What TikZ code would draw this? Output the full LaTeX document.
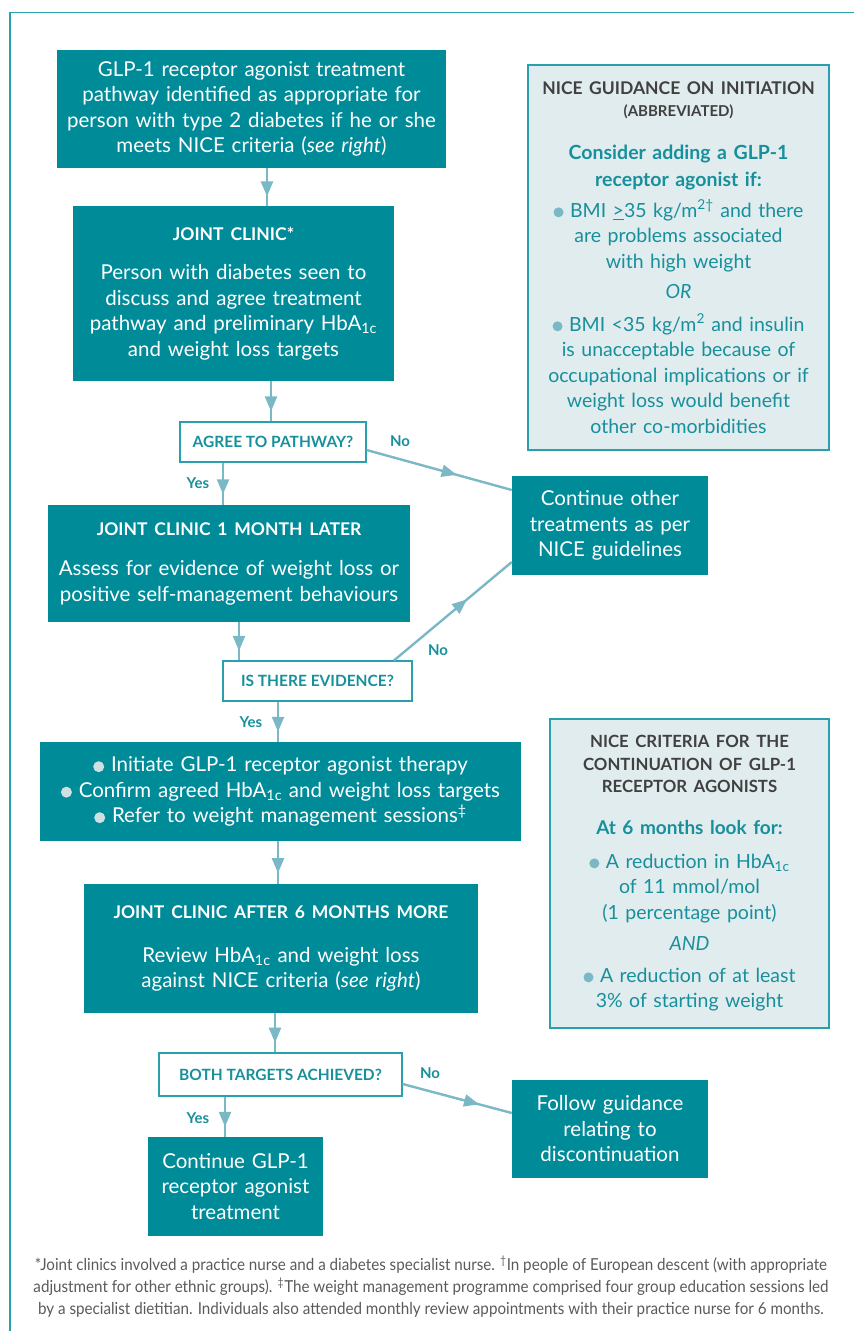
\documentclass[tikz,border=0pt]{standalone}
\usepackage{fontspec}
\setmainfont{Lato}
\newfontfamily\notefont[FakeStretch=0.92]{Lato}
\usetikzlibrary{arrows.meta,positioning,decorations.markings}
\setlength{\parindent}{0pt}

\definecolor{tealbox}{HTML}{008B99}
\definecolor{arrowc}{HTML}{7AB8C5}
\definecolor{framec}{HTML}{2AA0AE}
\definecolor{infofill}{HTML}{E1ECEF}
\definecolor{tealtext}{HTML}{17909C}
\definecolor{headgrey}{HTML}{404040}
\definecolor{notegrey}{HTML}{5A5A5A}
\definecolor{dotlight}{HTML}{CFE0E3}

\newcommand\bluedot{\tikz[baseline=-5pt]\fill[arrowc] (0pt,0pt) circle (5pt);}
\newcommand\greydot{\tikz[baseline=-5pt]\fill[dotlight] (0pt,0pt) circle (5.5pt);}
\newcommand\boxhead[1]{{\bfseries\fontsize{17.5}{25.5}\selectfont #1\par}}
\newcommand\hba{HbA\textsubscript{1c}}

\tikzset{
    stepbox/.style={fill=tealbox, text=white, align=center, inner sep=0pt,
        font=\fontsize{20.5}{25.5}\selectfont},
    askbox/.style={draw=framec, line width=1.2pt, fill=white, text=tealtext,
        inner sep=0pt, font=\bfseries\fontsize{15.5}{18}\selectfont},
    infobox/.style={draw=framec, line width=1.5pt, fill=infofill, text=tealtext,
        align=center, inner sep=0pt, font=\fontsize{19.5}{25.5}\selectfont},
    boxdim/.style 2 args={minimum width=#1, text width=#1, minimum height=#2},
    askdim/.style 2 args={minimum width=#1, minimum height=#2},
    flow/.style={arrowc, line width=2.4pt, postaction={decorate,
        decoration={markings, mark=at position #1 with {\arrow{Triangle[length=15pt,width=12pt]}}}}},
    flow/.default=0.75,
    answer/.style={text=tealtext, inner sep=0pt, font=\bfseries\fontsize{15}{18}\selectfont}
}

\begin{document}
\begin{tikzpicture}[x=1pt, y=-1pt]
\useasboundingbox (0,0) rectangle (854,1331);
% open frame round the figure
\draw[framec, line width=1.5pt] (10,1331) -- (10,12.5) -- (854,12.5);

% main pathway
\node[stepbox, boxdim={389pt}{118pt}] (init) at (251.5,109) {GLP-1 receptor agonist treatment\\ pathway identified as appropriate for\\ person with type 2 diabetes if he or she\\ meets NICE criteria (\textit{see right})};
\node[stepbox, boxdim={321pt}{175pt}] (clinic) at (233.5,293.5) {\boxhead{JOINT CLINIC*}
    \vspace{14pt}
    Person with diabetes seen to\\ discuss and agree treatment\\ pathway and preliminary \hba\\ and weight loss targets\par};
\node[askbox, askdim={186pt}{40pt}] (agree) at (273,442) {AGREE TO PATHWAY?};
\node[stepbox, boxdim={362pt}{117pt}] (month) at (229,563.5) {\boxhead{JOINT CLINIC 1 MONTH LATER}
    \vspace{15pt}
    Assess for evidence of weight loss or\\ positive self-management behaviours\par};
\node[askbox, askdim={189pt}{40pt}] (evidence) at (317.5,681) {IS THERE EVIDENCE?};
\node[stepbox, boxdim={481pt}{99pt}] (start) at (280.5,791.5) {\greydot\ Initiate GLP-1 receptor agonist therapy\\ \greydot\ Confirm agreed \hba\ and weight loss targets\\ \greydot\ Refer to weight management sessions\textsuperscript{\textdaggerdbl}};
\node[stepbox, boxdim={394pt}{129pt}] (review) at (281,948.5) {\boxhead{JOINT CLINIC AFTER 6 MONTHS MORE}
    \vspace{18pt}
    Review \hba\ and weight loss\\ against NICE criteria (\textit{see right})\par};
\node[askbox, askdim={243pt}{43pt}] (both) at (280.5,1074.5) {BOTH TARGETS ACHIEVED?};
\node[stepbox, boxdim={175pt}{99pt}] (keep) at (235.5,1186.5) {Continue GLP-1\\ receptor agonist\\ treatment};

% side outcomes
\node[stepbox, boxdim={196pt}{99pt}] (other) at (610,525.5) {Continue other\\ treatments as per\\ NICE guidelines};
\node[stepbox, boxdim={196pt}{98pt}] (stop) at (610,1129) {Follow guidance\\ relating to\\ discontinuation};

% guidance panels
\node[infobox, boxdim={301pt}{385pt}] (initinfo) at (678.5,257.5) {%
    {\bfseries\color{headgrey}\fontsize{17.5}{23}\selectfont NICE GUIDANCE ON INITIATION\par
    \fontsize{15}{22.5}\selectfont (ABBREVIATED)\par}
    \vspace{15.5pt}
    {\bfseries\fontsize{19.5}{27}\selectfont Consider adding a GLP-1\\ receptor agonist if:\par}
    \vspace{5.5pt}
    \bluedot\ BMI \underline{>}35 kg/m\textsuperscript{2\textdagger} and there\\ are problems associated\\ with high weight\par
    \vspace{4.5pt}
    \textit{OR}\par
    \vspace{7.5pt}
    \bluedot\ BMI <35 kg/m\textsuperscript{2} and insulin\\ is unacceptable because of\\ occupational implications or if\\ weight loss would benefit\\ other co-morbidities\par};
\node[infobox, boxdim={279pt}{309pt}] (keepinfo) at (689.5,873.5) {%
    {\bfseries\color{headgrey}\fontsize{16.8}{22.5}\selectfont NICE CRITERIA FOR THE\\ CONTINUATION OF GLP-1\\ RECEPTOR AGONISTS\par}
    \vspace{14.5pt}
    {\bfseries\fontsize{19}{27}\selectfont At 6 months look for:\par}
    \vspace{8.5pt}
    \bluedot\ A reduction in \hba\\ of 11 mmol/mol\\ (1 percentage point)\par
    \vspace{5.5pt}
    \textit{AND}\par
    \vspace{6.5pt}
    \bluedot\ A reduction of at least\\ 3\% of starting weight\par};

% connectors
\draw[flow] ([xshift=15.5pt]init.south) -- ([xshift=33.5pt]clinic.north);
\draw[flow] ([xshift=37.5pt]clinic.south) -- ([xshift=-2pt]agree.north);
\draw[flow] ([xshift=-50pt]agree.south) -- ([xshift=-6pt]month.north);
\draw[flow] ([xshift=10pt]month.south) -- ([xshift=-78.5pt]evidence.north);
\draw[flow] ([xshift=-39.5pt]evidence.south) -- ([xshift=-2.5pt]start.north);
\draw[flow] ([xshift=-2.5pt]start.south) -- ([xshift=-3pt]review.north);
\draw[flow] ([xshift=-6pt]review.south) -- ([xshift=-5.5pt]both.north);
\draw[flow] ([xshift=-55.5pt]both.south) -- ([xshift=-10.5pt]keep.north);
\draw[flow=0.62] ([yshift=-8pt]agree.east) -- ([yshift=35.5pt]other.west);
\draw[flow=0.62] ([xshift=76.5pt]evidence.north) -- ([yshift=-36.5pt]other.west);
\draw[flow=0.7] ([yshift=-9.5pt]both.east) -- ([yshift=16pt]stop.west);

% answers
\node[answer] (yesagree) at (198,483) {Yes};
\node[answer] (noagree) at (400,441) {No};
\node[answer] (yesevid) at (251,722) {Yes};
\node[answer] (noevid) at (438,650) {No};
\node[answer] (yesboth) at (198,1118) {Yes};
\node[answer] (noboth) at (430,1073) {No};

% footnotes
\node[text=notegrey, align=center, font=\notefont\fontsize{16.5}{22}\selectfont] (note) at (431,1287)
    {*Joint clinics involved a practice nurse and a diabetes specialist nurse. \textsuperscript{\textdagger}In people of European descent (with appropriate\\
    adjustment for other ethnic groups). \textsuperscript{\textdaggerdbl}The weight management programme comprised four group education sessions led\\
    by a specialist dietitian. Individuals also attended monthly review appointments with their practice nurse for 6 months.};
\end{tikzpicture}
\end{document}
